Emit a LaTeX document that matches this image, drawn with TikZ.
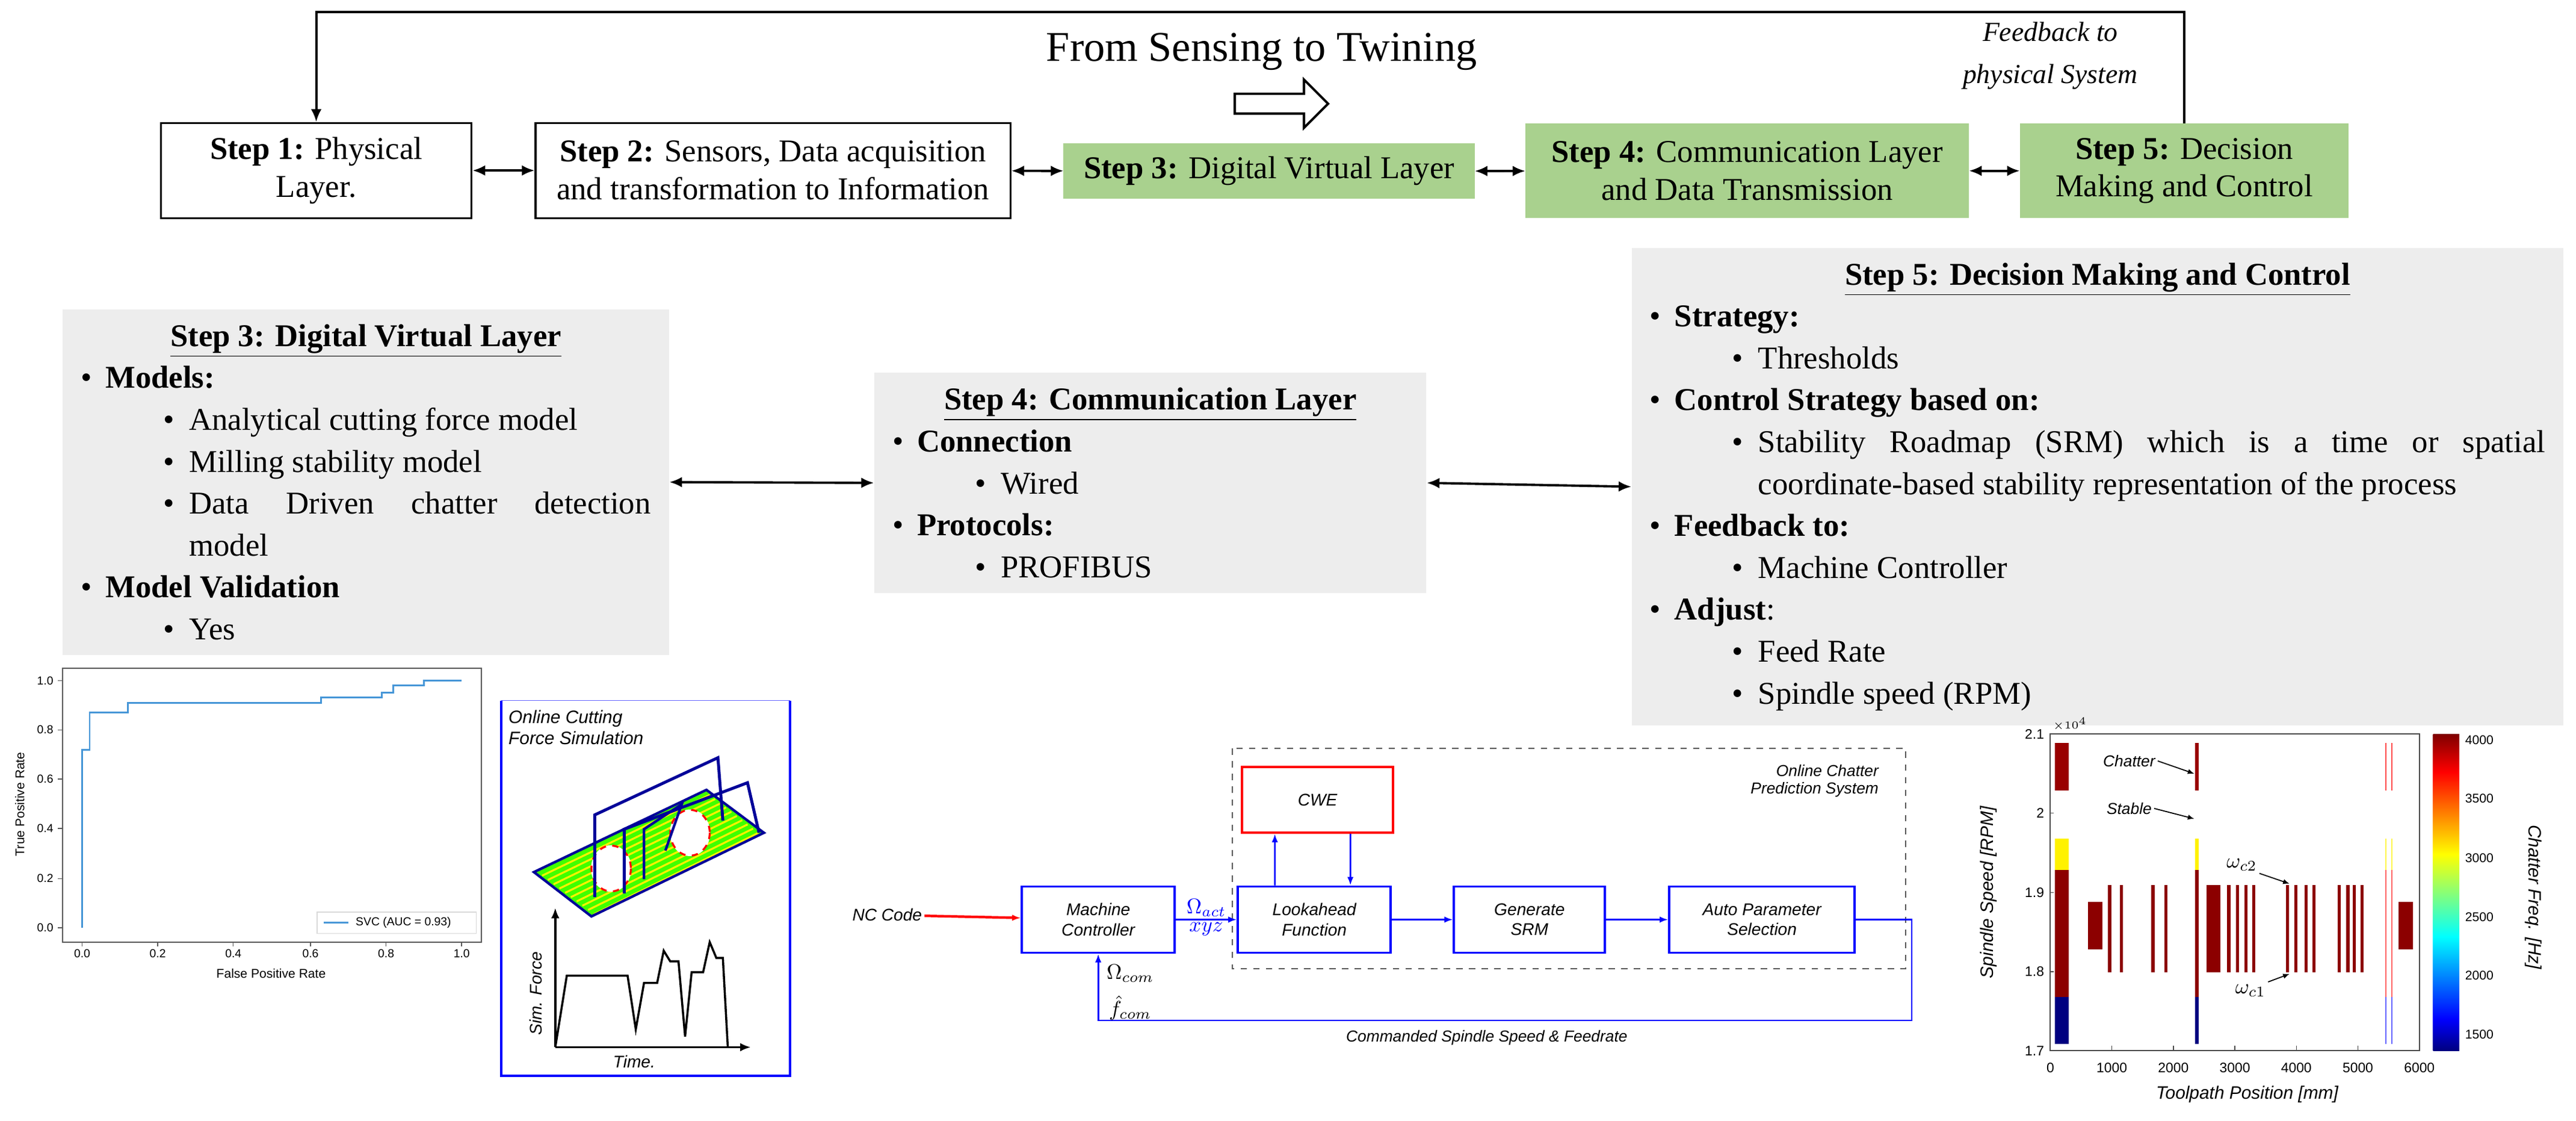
\documentclass[tikz,border=0pt]{standalone}
\usepackage{fontspec}
\setmainfont{Liberation Serif}
\newfontfamily\sansf{Liberation Sans}
\usetikzlibrary{arrows.meta,shapes.arrows}
\definecolor{stepgreen}{RGB}{169,209,142}
\definecolor{gbg}{RGB}{237,237,237}
\definecolor{jdb}{rgb}{0,0,0.5}
\definecolor{jb}{rgb}{0,0,1}
\definecolor{jc}{rgb}{0,1,1}
\definecolor{jy}{rgb}{1,1,0}
\definecolor{jr}{rgb}{1,0,0}
\definecolor{jdr}{rgb}{0.5,0,0}
\definecolor{barred}{rgb}{0.6,0,0}
\definecolor{rocblue}{RGB}{70,150,215}
\pgfdeclareverticalshading{jet}{100bp}{color(0bp)=(jdb); color(25bp)=(jdb); color(30bp)=(jb); color(43bp)=(jc); color(56bp)=(jy); color(69bp)=(jr); color(75bp)=(jdr); color(100bp)=(jdr)}
\newcommand\LA[1]{\par\hangindent=0.41cm\hangafter=1\noindent\makebox[0.41cm][l]{\textbullet}#1}
\newcommand\LB[1]{\par\hangindent=1.80cm\hangafter=1\noindent\hspace*{1.37cm}\makebox[0.43cm][l]{\textbullet}#1}
\begin{document}
\begin{tikzpicture}[x=0.0273cm,y=-0.011875cm,
  stepbox/.style={draw,line width=0.9pt,align=center,font=\fontsize{15}{17.9}\selectfont,inner sep=1pt,minimum height=1.58cm},
  gstep/.style={stepbox,draw=stepgreen,fill=stepgreen},
  dbl/.style={{Latex[length=6pt,width=5pt]}-{Latex[length=6pt,width=5pt]},line width=1.1pt},
  gbox/.style={fill=gbg,anchor=north west,inner xsep=0.3cm,inner ysep=0.25cm,align=justify,font=\fontsize{15}{19.8}\selectfont},
  blk/.style={draw=blue,line width=1.1pt,align=center,font=\sansf\itshape\fontsize{8}{9.5}\selectfont,minimum width=2.54cm,minimum height=1.1cm,inner sep=1pt},
  barr/.style={blue,line width=0.8pt,-{Latex[length=4pt,width=3pt]}},
  tk/.style={font=\sansf\fontsize{5.5}{6}\selectfont,inner sep=1pt},
  clab/.style={font=\sansf\itshape\fontsize{7.5}{8.5}\selectfont,inner sep=1pt},
  mlab/.style={font=\fontsize{10}{11}\selectfont,inner sep=1pt}]
\useasboundingbox (0,0) rectangle (1568,1568);

% ---------- top row ----------
\node[font=\fontsize{20}{24}\selectfont] (title) at (768,72) {From Sensing to Twining};
\node[single arrow,draw,line width=1.1pt,fill=white,minimum height=1.55cm,minimum width=0.8cm,single arrow head extend=0.2cm,inner sep=0.12cm] (harrow) at (777,145) {};
\node[font=\itshape\fontsize{13}{16}\selectfont,align=center] (fbtext) at (1248,78) {Feedback to\\[4pt]physical System};

\node[stepbox,minimum width=5.16cm] (s1) at (192.5,238.5) {\textbf{Step 1:} Physical\\Layer.};
\node[stepbox,minimum width=7.89cm] (s2) at (470.5,238.5) {\textbf{Step 2:} Sensors, Data acquisition\\and transformation to Information};
\node[gstep,minimum width=6.80cm,minimum height=0.89cm] (s3) at (772.5,239.5) {\textbf{Step 3:} Digital Virtual Layer};
\node[gstep,minimum width=7.34cm,minimum height=1.54cm] (s4) at (1063.5,239) {\textbf{Step 4:} Communication Layer\\and Data Transmission};
\node[gstep,minimum width=5.43cm,minimum height=1.54cm] (s5) at (1329.5,239) {\textbf{Step 5:} Decision\\Making and Control};
\draw[dbl] (s1) -- (s2);
\draw[dbl] (s2) -- (s3);
\draw[dbl] (s3) -- (s4);
\draw[dbl] (s4) -- (s5);
\draw[line width=1.1pt,-{Latex[length=6pt,width=5pt]}] (s5.north) -- ++(0,-156) -| (s1.north);

% ---------- grey boxes ----------
\node[gbox,text width=9.47cm] (g3) at (38,432) {{\centering\underline{\textbf{Step 3: Digital Virtual Layer}}\par}
\LA{\textbf{Models:}}
\LB{Analytical cutting force model}
\LB{Milling stability model}
\LB{Data Driven chatter detection\linebreak model}
\LA{\textbf{Model Validation}}
\LB{Yes}};
\node[gbox,text width=8.57cm] (g4) at (532,521) {{\centering\underline{\textbf{Step 4: Communication Layer}}\par}
\LA{\textbf{Connection}}
\LB{Wired}
\LA{\textbf{Protocols:}}
\LB{PROFIBUS}};
\node[gbox,text width=14.88cm] (g5) at (993,346) {{\centering\underline{\textbf{Step 5: Decision Making and Control}}\par}
\LA{\textbf{Strategy:}}
\LB{Thresholds}
\LA{\textbf{Control Strategy based on:}}
\LB{Stability Roadmap (SRM) which is a time or spatial\linebreak coordinate-based stability representation of the process}
\LA{\textbf{Feedback to:}}
\LB{Machine Controller}
\LA{\textbf{Adjust}:}
\LB{Feed Rate}
\LB{Spindle speed (RPM)}};
\draw[dbl] (g3.east) -- (g4.west);
\draw[dbl] (g4.east) -- (g5.west);

% ---------- ROC plot ----------
\draw[gray!70!black,line width=0.5pt] (38,935) rectangle (293,1318);
\foreach \t/\yy in {0.0/1298,0.2/1229,0.4/1159,0.6/1090,0.8/1021,1.0/952}{
  \draw[gray!70!black] (38,\yy) -- (35,\yy);
  \node[tk,anchor=east] at (34,\yy) {\t};}
\foreach \t/\xx in {0.0/50,0.2/96,0.4/142,0.6/189,0.8/235,1.0/281}{
  \draw[gray!70!black] (\xx,1318) -- (\xx,1324);
  \node[tk,anchor=north] at (\xx,1325) {\t};}
\node[tk,font=\sansf\fontsize{6}{7}\selectfont] at (165,1362) {False Positive Rate};
\node[tk,font=\sansf\fontsize{6}{7}\selectfont,rotate=90] at (12,1125) {True Positive Rate};
\draw[rocblue,line width=0.8pt] (50,1298) -- (50,1049) -- (54.6,1049) -- (54.6,997) -- (77.7,997) -- (77.7,983) -- (195.5,983) -- (195.5,976) -- (232.5,976) -- (232.5,969) -- (239.4,969) -- (239.4,959) -- (257.9,959) -- (257.9,952) -- (281,952);
\draw[gray!30,fill=white] (193,1276) rectangle (290,1306);
\draw[rocblue,line width=0.8pt] (197,1291) -- (212,1291);
\node[tk,anchor=west] at (215,1291) {SVC (AUC = 0.93)};

% ---------- cutting force simulation ----------
\draw[blue!60,line width=0.4pt] (305,980) -- (481,980);
\draw[blue,line width=1.2pt] (305,980) -- (305,1505) -- (481,1505) -- (481,980);
\node[anchor=north west,align=left,font=\sansf\itshape\fontsize{8.5}{10}\selectfont,inner sep=1pt] (cft) at (308,990) {Online Cutting\\Force Simulation};
\fill[green!75!yellow] (325,1220) -- (430,1105) -- (465,1165) -- (360,1282) -- cycle;
\foreach \k in {0,...,9}{\draw[yellow,line width=0.9pt] ({330+3.5*\k},{1225+6*\k}) -- ({432+3.3*\k},{1112+5.9*\k});}
\draw[blue!60!black,line width=1.2pt] (325,1220) -- (430,1105) -- (465,1165) -- (360,1282) -- cycle;
\draw[white,fill=white] (372,1215) ellipse (12 and 32);
\draw[white,fill=white] (420,1165) ellipse (12 and 32);
\draw[red,dashed,line width=0.9pt] (372,1215) ellipse (12 and 32);
\draw[red,dashed,line width=0.9pt] (420,1165) ellipse (12 and 32);
\draw[blue!60!black,line width=1.4pt] (362,1255) -- (362,1140) -- (437,1060) -- (440,1148);
\draw[blue!60!black,line width=1.4pt] (380,1250) -- (380,1160) -- (455,1095) -- (462,1165);
\draw[blue!60!black,line width=1.2pt] (405,1190) -- (415,1125) -- (392,1160) -- (392,1230);
\draw[line width=1pt,-{Latex[length=5pt,width=4pt]}] (338,1465) -- (338,1270);
\draw[line width=1pt,-{Latex[length=5pt,width=4pt]}] (338,1465) -- (457,1465);
\draw[line width=1pt] (338,1465) -- (345,1365) -- (382,1365) -- (387,1440) -- (392,1375) -- (400,1375) -- (404,1330) -- (408,1345) -- (413,1345) -- (417,1450) -- (421,1360) -- (428,1360) -- (432,1318) -- (436,1340) -- (440,1340) -- (443,1465);
\node[clab,rotate=90,font=\sansf\itshape\fontsize{8}{9}\selectfont] at (326,1390) {Sim. Force};
\node[clab,font=\sansf\itshape\fontsize{8}{9}\selectfont] at (386,1485) {Time.};

% ---------- block diagram ----------
\draw[gray!70!black,dashed,line width=0.5pt] (750,1047) rectangle (1160,1355);
\node[clab,align=right,anchor=north east] (ocps) at (1145,1066) {Online Chatter\\Prediction System};
\node[clab,font=\sansf\itshape\fontsize{8}{9}\selectfont] (nc) at (540,1280) {NC Code};
\node[blk] (mc) at (668.5,1286.5) {Machine\\Controller};
\node[blk] (la) at (800,1286.5) {Lookahead\\Function};
\node[blk,minimum width=2.51cm] (gs) at (931,1286.5) {Generate\\SRM};
\node[blk,minimum width=3.08cm] (ap) at (1072.5,1286.5) {Auto Parameter\\Selection};
\node[blk,draw=red,minimum width=2.51cm,minimum height=1.09cm] (cwe) at (802,1119) {CWE};
\draw[red,line width=1.2pt,-{Latex[length=4pt,width=3pt]}] (nc) -- (mc);
\draw[barr] (mc) -- node[above,mlab]{$\Omega_{act}$} node[below,mlab]{$xyz$} (la);
\draw[barr] (la) -- (gs);
\draw[barr] (gs) -- (ap);
\draw[barr] ([xshift=-0.655cm]la.north) -- ([xshift=-0.71cm]cwe.south);
\draw[barr] ([xshift=0.545cm]cwe.south) -- ([xshift=0.6cm]la.north);
\draw[barr] (ap.east) -- ++(34,0) -- ++(0,141) -| (mc.south);
\node[mlab] (oc) at (688,1362) {$\Omega_{com}$};
\node[mlab] (fc) at (688,1410) {$\hat f_{com}$};
\node[clab] (cmd) at (905,1452) {Commanded Spindle Speed \& Feedrate};

% ---------- chatter map ----------
\begin{scope}[shift={(1248,1470)},x=0.00102375cm,y=1.3152cm]
  \foreach \a/\b in {70/296,2352/2408}{
    \fill[barred] (\a,3.29) rectangle (\b,3.89);
    \fill[yellow] (\a,2.28) rectangle (\b,2.68);
    \fill[jdr!90!red] (\a,0.68) rectangle (\b,2.28);
    \fill[jdb] (\a,0.09) rectangle (\b,0.68);}
  \foreach \a/\b in {5448/5468,5546/5566}{
    \fill[red!70] (\a,3.29) rectangle (\b,3.89);
    \fill[yellow!70] (\a,2.28) rectangle (\b,2.68);
    \fill[red!60] (\a,0.68) rectangle (\b,2.28);
    \fill[blue!60] (\a,0.09) rectangle (\b,0.68);}
  \foreach \a/\b in {613/845,5662/5894}{\fill[jdr!90!red] (\a,1.28) rectangle (\b,1.88);}
  \foreach \a/\b in {2535/2760}{\fill[jdr!90!red] (\a,0.99) rectangle (\b,2.09);}
  \foreach \c in {965,1155,1669,1880,2901,3042,3183,3310,3852,3993,4155,4282,4697,4838,4944,5070}{
    \fill[jdr!90!red] (\c-25,0.99) rectangle (\c+25,2.09);}
  \draw[black!70,line width=0.6pt] (0,0) rectangle (6000,4);
  \foreach \v/\l in {0/1.7,1/1.8,2/1.9,3/2,4/2.1}{
    \draw[black!70] (0,\v) -- (60,\v);
    \node[tk,anchor=east,font=\sansf\fontsize{6.5}{7}\selectfont] at (-60,\v) {\l};}
  \foreach \v in {0,1000,...,6000}{
    \draw[black!70] (\v,0) -- (\v,0.06);
    \node[tk,anchor=north,font=\sansf\fontsize{6.5}{7}\selectfont] at (\v,-0.12) {\v};}
  \node[tk,anchor=south west,font=\sansf\fontsize{5.5}{6}\selectfont] at (0,4.01) {$\times10^4$};
  \node[clab] (chat) at (1282,3.66) {Chatter};
  \node[clab] (stab) at (1282,3.06) {Stable};
  \node[mlab] (wc2) at (3112,2.35) {$\omega_{c2}$};
  \node[mlab] (wc1) at (3254,0.76) {$\omega_{c1}$};
  \draw[-{Latex[length=3pt,width=2.5pt]},line width=0.5pt] (chat.east) -- (2338,3.50);
  \draw[-{Latex[length=3pt,width=2.5pt]},line width=0.5pt] (stab.east) -- (2338,2.93);
  \draw[-{Latex[length=3pt,width=2.5pt]},line width=0.5pt] (wc2.south east) -- (3887,2.11);
  \draw[-{Latex[length=3pt,width=2.5pt]},line width=0.5pt] (wc1.north east) -- (3887,0.97);
  \node[clab,rotate=90,font=\sansf\itshape\fontsize{8.5}{9}\selectfont] at (-1000,2) {Spindle Speed [RPM]};
  \node[clab,font=\sansf\itshape\fontsize{8.5}{9}\selectfont] at (3200,-0.55) {Toolpath Position [mm]};
\end{scope}
\shade[shading=jet] (1481,1027) rectangle (1497,1470);
\foreach \l/\yy in {4000/1035,3500/1117,3000/1200,2500/1283,2000/1365,1500/1447}{
  \node[tk,anchor=west,font=\sansf\fontsize{6}{7}\selectfont] at (1499,\yy) {\l};}
\node[clab,rotate=-90,font=\sansf\itshape\fontsize{8.5}{9}\selectfont] at (1542,1255) {Chatter Freq. [Hz]};
\end{tikzpicture}
\end{document}
